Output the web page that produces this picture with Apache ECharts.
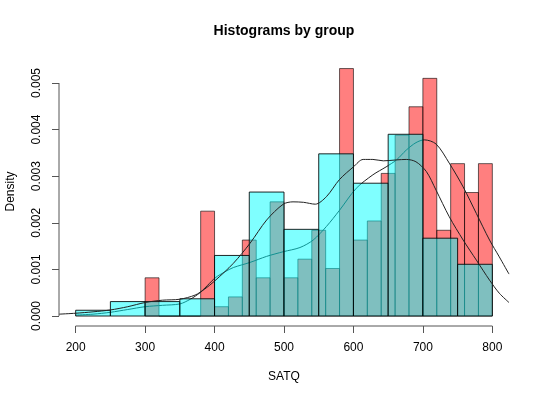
<!DOCTYPE html>
<html>
<head>
<meta charset="utf-8">
<script src="https://cdn.jsdelivr.net/npm/echarts@6/dist/echarts.min.js"></script>
<style>html,body{margin:0;padding:0;background:#fff;}#c{width:540px;height:400px;}</style>
</head>
<body>
<div id="c"></div>
<script>
// ---- data ----
var redBreaks = [300,320,340,360,380,400,420,440,460,480,500,520,540,560,580,600,620,640,660,680,700,720,740,760,780,800];
var redDensity = [0.00082,0,0,0,0.00225,0.0002,0.00041,0.00163,0.00082,0.00245,0.00082,0.00122,0.00184,0.00102,0.00531,0.00163,0.00204,0.00306,0.00388,0.00449,0.0051,0.00184,0.00327,0.00265,0.00327];
var cyanBreaks = [200,250,300,350,400,450,500,550,600,650,700,750,800];
var cyanDensity = [0.000124,0.00031,0.00031,0.00037,0.0013,0.00266,0.00186,0.00348,0.00285,0.0039,0.00167,0.00111];

var redCurveX = [200,225,250,275,300,325,350,365,379,390,401,415,427,451,475,499,523,542,561,580,604,628,647,662,676,690,702,719,738,758,777,796,810,824];
var redCurveY = [0.00002,0.00004,0.00008,0.00014,0.0002,0.00023,0.00026,0.00036,0.0005,0.00066,0.00082,0.00095,0.00104,0.00115,0.00128,0.00138,0.00147,0.00163,0.00192,0.00227,0.00274,0.00303,0.0032,0.00335,0.00356,0.00372,0.00378,0.00369,0.00328,0.00277,0.0022,0.00163,0.00127,0.0009];
var cyanCurveX = [176,200,225,250,275,300,325,350,372,386,400,427,451,475,499,513,528,545,561,580,600,614,628,643,662,676,690,705,719,738,758,777,796,810,824];
var cyanCurveY = [0.00004,0.00006,0.00009,0.00013,0.0002,0.00029,0.00034,0.00036,0.00045,0.00058,0.00075,0.00113,0.00156,0.00206,0.0024,0.00245,0.00244,0.0024,0.00256,0.00293,0.0032,0.00336,0.00336,0.00333,0.00335,0.00336,0.00331,0.0031,0.0027,0.00213,0.00163,0.0012,0.00077,0.00049,0.00029];

var xTicks = [200,300,400,500,600,700,800];
var yTicks = [0,0.001,0.002,0.003,0.004,0.005];
var yTickLabels = ['0.000','0.001','0.002','0.003','0.004','0.005'];

// ---- build ----
function bins(breaks, dens){
  var out=[];
  for(var i=0;i<dens.length;i++) out.push([breaks[i],breaks[i+1],dens[i]]);
  return out;
}
function pairs(xs, ys){ var o=[]; for(var i=0;i<xs.length;i++) o.push([xs[i],ys[i]]); return o; }

function barRenderer(fill, stroke){
  return function(params, api){
    var x0=api.value(0), x1=api.value(1), h=api.value(2);
    var p0=api.coord([x0,h]), p1=api.coord([x1,0]);
    return {type:'rect', shape:{x:p0[0], y:p0[1], width:p1[0]-p0[0], height:p1[1]-p0[1]},
      style:{fill:fill, stroke:stroke, lineWidth:1}};
  };
}

var font = 'Liberation Sans, Arial, Helvetica, sans-serif';
var chart = echarts.init(document.getElementById('c'), null, {renderer:'canvas'});
chart.setOption({
  animation:false,
  backgroundColor:'#ffffff',
  title:{text:'Histograms by group', left:284, top:24, textAlign:'center', padding:0,
    textStyle:{fontFamily:font, fontSize:14, fontWeight:'bold', color:'#000'}},
  grid:{left:59, right:31, top:57, bottom:74, containLabel:false, outerBoundsMode:'none'},
  xAxis:{type:'value', min:176, max:824,
    name:'SATQ', nameLocation:'middle', nameGap:45,
    nameTextStyle:{fontFamily:font, fontSize:12, color:'#000'},
    axisLine:{show:false, onZero:false},
    axisTick:{show:true, length:7, customValues:xTicks, lineStyle:{color:'#555'}},
    axisLabel:{customValues:xTicks, margin:16, fontFamily:font, fontSize:12, color:'#000'},
    splitLine:{show:false}},
  yAxis:{type:'value', min:-0.000214, max:0.005558,
    name:'Density', nameLocation:'middle', nameGap:42, nameRotate:90,
    nameTextStyle:{fontFamily:font, fontSize:12, color:'#000'},
    axisLine:{show:false, onZero:false},
    axisTick:{show:true, length:7, customValues:yTicks, lineStyle:{color:'#555'}},
    axisLabel:{customValues:yTicks, rotate:90, margin:16, fontFamily:font, fontSize:12, color:'#000',
      formatter:function(v){ var i=yTicks.indexOf(v); return i>=0?yTickLabels[i]:''; }},
    splitLine:{show:false}},
  series:[
    {type:'custom', name:'red', z:2, data:bins(redBreaks, redDensity),
      renderItem:barRenderer('rgba(255,0,0,0.5)','rgba(0,0,0,0.6)')},
    {type:'line', name:'redDensity', z:3, data:pairs(redCurveX, redCurveY), showSymbol:false, symbol:'none',
      smooth:0.3, lineStyle:{color:'#222', width:1}},
    {type:'custom', name:'cyan', z:4, data:bins(cyanBreaks, cyanDensity),
      renderItem:barRenderer('rgba(0,255,255,0.5)','rgba(0,0,0,0.85)')},
    {type:'line', name:'cyanDensity', z:5, data:pairs(cyanCurveX, cyanCurveY), showSymbol:false, symbol:'none',
      smooth:0.3, lineStyle:{color:'#222', width:1}},
    {type:'custom', name:'axes', z:6, data:[[0]], clip:false,
      renderItem:function(params, api){
        var cs=params.coordSys;
        var xa=api.coord([xTicks[0],0])[0], xb=api.coord([xTicks[xTicks.length-1],0])[0];
        var ya=api.coord([200,yTicks[0]])[1], yb=api.coord([200,yTicks[yTicks.length-1]])[1];
        var by=cs.y+cs.height;
        return {type:'group', children:[
          {type:'line', shape:{x1:xa,y1:by,x2:xb,y2:by}, style:{stroke:'#555', lineWidth:1}},
          {type:'line', shape:{x1:cs.x,y1:ya,x2:cs.x,y2:yb}, style:{stroke:'#555', lineWidth:1}}
        ]};
      }}
  ]
});
</script>
</body>
</html>
